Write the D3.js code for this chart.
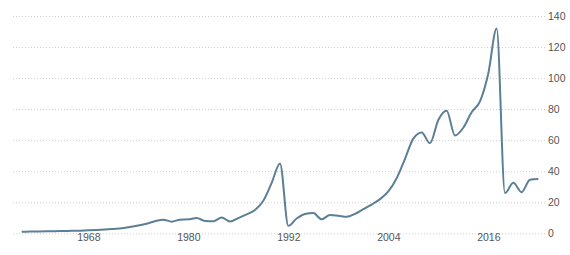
<!DOCTYPE html>
<html>
<head>
<meta charset="utf-8">
<script src="https://cdn.jsdelivr.net/npm/d3@7"></script>
<style>
  body { margin: 0; background: #fff; }
  svg { display: block; font-family: "Liberation Sans", Arial, sans-serif; }
  .grid line { stroke: #cfcfcf; stroke-dasharray: 1,2; }
  .grid text { fill: #555; font-size: 10.5px; }
  .grid .domain { display: none; }
</style>
</head>
<body>
<svg width="570" height="255"></svg>
<script>
var years = d3.range(1960, 2023);
var values = [
  1.0, 1.1, 1.2, 1.3, 1.4, 1.5, 1.6, 1.7, 1.9, 2.1,
  2.4, 2.8, 3.2, 4.0, 5.0, 6.2, 7.8, 8.8, 7.5, 8.8,
  9.0, 9.8, 8.0, 7.8, 10.2, 7.6, 9.8, 12.2, 15.0, 21.0,
  32.5, 45.0, 4.8, 9.5, 12.5, 13.0, 9.0, 11.8, 11.3, 10.6,
  12.5, 15.5, 18.5, 22.0, 27.0, 35.5, 48.0, 61.0, 65.0, 58.0,
  73.0, 79.0, 63.0, 68.0, 78.0, 85.0, 103.0, 132.0, 26.0, 32.5,
  26.5, 34.5, 35.0
];
var xTicks = [1968, 1980, 1992, 2004, 2016];
var yTicks = [0, 20, 40, 60, 80, 100, 120, 140];

var svg = d3.select("svg"),
    gridLeft = 13,
    gridRight = 545,
    top = 15.5,
    bottom = 233.3;

var x = d3.scaleLinear()
    .domain([1960, 2022])
    .range([21.7, 538.3]);

var y = d3.scaleLinear()
    .domain([0, 140])
    .range([bottom, 16]);

// horizontal grid + labels on the right
var yAxis = svg.append("g")
    .attr("class", "grid")
    .attr("transform", "translate(" + gridRight + ",0)")
    .call(d3.axisRight(y)
      .tickValues(yTicks)
      .tickSize(-(gridRight - gridLeft))
      .tickPadding(3));
yAxis.selectAll("text").attr("font-size", null);

// vertical grid + year labels
var xAxis = svg.append("g")
    .attr("class", "grid")
    .attr("transform", "translate(0," + bottom + ")")
    .call(d3.axisBottom(x)
      .tickValues(xTicks)
      .tickFormat(d3.format("d"))
      .tickSize(-(bottom - top))
      .tickPadding(7.5));
xAxis.selectAll("text").attr("fill", "#444");

var line = d3.line()
    .x(function(d, i) { return x(years[i]); })
    .y(function(d) { return y(d); })
    .curve(d3.curveMonotoneX);

svg.append("path")
    .datum(values)
    .attr("fill", "none")
    .attr("stroke", "#5b7f95")
    .attr("stroke-width", 2)
    .attr("stroke-linejoin", "round")
    .attr("d", line);
</script>
</body>
</html>
